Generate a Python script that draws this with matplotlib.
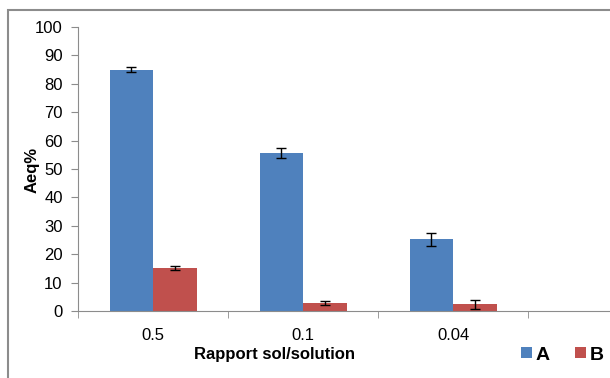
import matplotlib.pyplot as plt
import numpy as np
from matplotlib.patches import Rectangle

categories = ['0.5', '0.1', '0.04']
a_values = [85.0, 55.5, 25.2]
a_errors = [1.0, 1.8, 2.4]
b_values = [15.1, 2.8, 2.3]
b_errors = [0.6, 0.8, 1.5]

plt.rcParams['font.family'] = ['Liberation Sans Narrow', 'Liberation Sans', 'DejaVu Sans']

fig = plt.figure(figsize=(6.1, 3.78), dpi=100)
ax = fig.add_axes([78 / 610, 67 / 378, 1 - 78 / 610, 284 / 378])

# outer chart frame (cropped on right and bottom)
fig.patches.append(Rectangle((8 / 610, -0.1), 1.2, (378 - 10) / 378 + 0.1,
                             transform=fig.transFigure, fill=False,
                             edgecolor='#8c8c8c', linewidth=1.5))

x = np.arange(len(categories))
w = 0.29
err_kw = dict(ecolor='black', elinewidth=1, capsize=3.5, capthick=1)
ax.bar(x - w / 2, a_values, w, yerr=a_errors, color='#4F81BD', label='A',
       error_kw=err_kw)
ax.bar(x + w / 2, b_values, w, yerr=b_errors, color='#C0504D', label='B',
       error_kw=err_kw)

ax.set_xlim(-0.5, (610 - 78) / 150 - 0.5)
ax.set_ylim(0, 100)
ax.set_yticks(range(0, 101, 10))
ax.set_xticks(x)
ax.set_xticklabels(categories)
ax.set_xticks([-0.5, 0.5, 1.5, 2.5], minor=True)
ax.tick_params(axis='x', which='major', length=0, pad=12, labelsize=12)
ax.tick_params(axis='x', which='minor', length=5, color='#8c8c8c', direction='out')
ax.tick_params(axis='y', length=5, color='#8c8c8c', labelsize=12, pad=6)

for s in ['top', 'right']:
    ax.spines[s].set_visible(False)
for s in ['left', 'bottom']:
    ax.spines[s].set_color('#8c8c8c')

fig.text(275 / 610, 1 - 355 / 378, 'Rapport sol/solution', ha='center', va='center',
         fontsize=12, fontweight='bold')
fig.text(32 / 610, 1 - 170 / 378, 'Aeq%', ha='center', va='center', rotation=90,
         fontsize=12, fontweight='bold')

leg = ax.legend(loc='center left', bbox_to_anchor=(521 / 610, 1 - 355 / 378),
                bbox_transform=fig.transFigure, ncol=2, frameon=False,
                borderpad=0, borderaxespad=0,
                handlelength=0.55, handleheight=0.55, handletextpad=0.2,
                columnspacing=1.3, prop={'weight': 'bold', 'size': 14})

fig.savefig('out.png', dpi=100)
